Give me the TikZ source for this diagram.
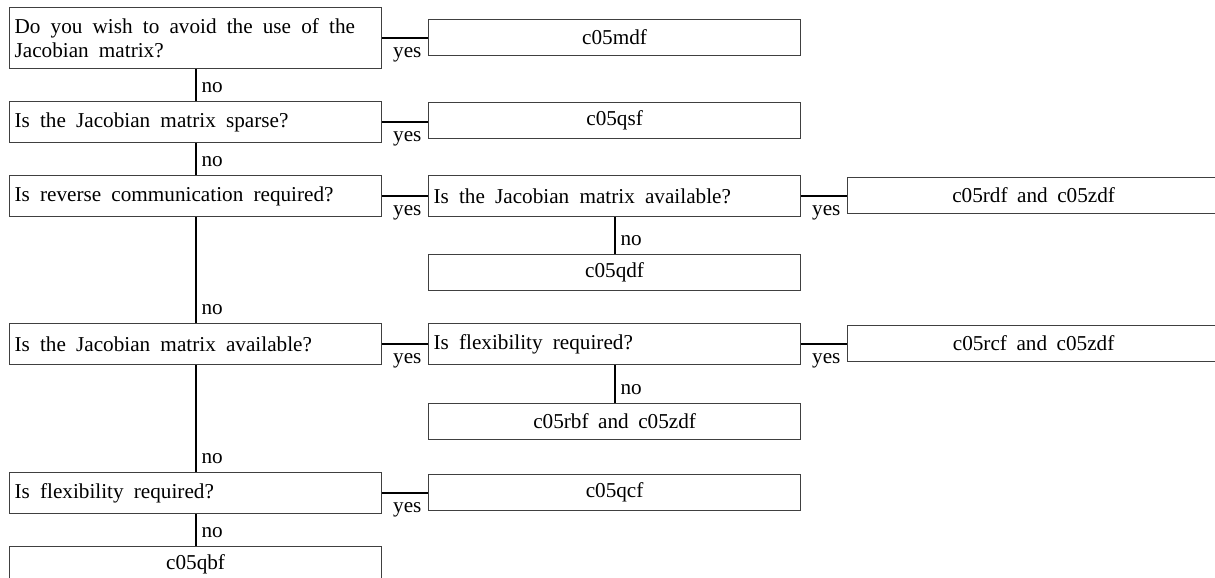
\documentclass[tikz,border=0pt]{standalone}
\usepackage{fontspec}
\setmainfont{Liberation Serif}
\usetikzlibrary{positioning}

\newcommand{\treefont}{\fontsize{10.6}{11.8}\selectfont\spaceskip=0.45em\relax}

\begin{document}
\begin{tikzpicture}[x=0.5pt,y=-0.5pt,
    box/.style={draw=black!75,line width=0.6pt,inner xsep=2.5pt,inner ysep=0pt,font=\treefont,anchor=north west},
    question/.style={box,text width=181pt,align=left,minimum height=20.5pt,
      execute at begin node={\spaceskip=0.48em\relax}},
    result/.style={box,minimum width=186pt,minimum height=18pt,align=center},
    link/.style={line width=1pt},
    yeslabel/.style={pos=0,anchor=north west,xshift=5pt,yshift=-4pt,inner sep=0pt,font=\treefont},
    nolabel/.style={pos=1,anchor=base west,xshift=2.5pt,yshift=4.5pt,inner sep=0pt,font=\treefont}]
\useasboundingbox (0,0) rectangle (1215,578);
\clip (0,0) rectangle (1215,578);

% Questions
\node[question,minimum height=30.5pt] (jac) at (9,7) {Do you wish to avoid the use of the\\Jacobian matrix?};
\node[question] (sparse) at (9,101) {Is the Jacobian matrix sparse?};
\node[question] (revcom) at (9,175) {Is reverse communication required?};
\node[question] (revjac) at (428,175) {Is the Jacobian matrix available?};
\node[question] (avail) at (9,323) {Is the Jacobian matrix available?};
\node[question] (availflex) at (428,323) {Is flexibility required?};
\node[question] (flex) at (9,472) {Is flexibility required?};

% Routines
\node[result] (mdf) at (428,19) {c05mdf};
\node[result] (qsf) at (428,102) {c05qsf};
\node[result] (rdf) at (847,177) {c05rdf and c05zdf};
\node[result] (qdf) at (428,254) {c05qdf};
\node[result] (rcf) at (847,325) {c05rcf and c05zdf};
\node[result] (rbf) at (428,403) {c05rbf and c05zdf};
\node[result] (qcf) at (428,474) {c05qcf};
\node[result] (qbf) at (9,546) {c05qbf};

% yes branches
\draw[link] (jac.east) -- node[yeslabel] {yes} (jac.east -| mdf.west);
\draw[link] (sparse.east) -- node[yeslabel] {yes} (sparse.east -| qsf.west);
\draw[link] (revcom.east) -- node[yeslabel] {yes} (revjac.west);
\draw[link] (revjac.east) -- node[yeslabel] {yes} (revjac.east -| rdf.west);
\draw[link] (avail.east) -- node[yeslabel] {yes} (availflex.west);
\draw[link] (availflex.east) -- node[yeslabel] {yes} (availflex.east -| rcf.west);
\draw[link] (flex.east) -- node[yeslabel] {yes} (flex.east -| qcf.west);

% no branches
\draw[link] (jac.south) -- node[nolabel] {no} (sparse.north);
\draw[link] (sparse.south) -- node[nolabel] {no} (revcom.north);
\draw[link] (revcom.south) -- node[nolabel] {no} (avail.north);
\draw[link] (revjac.south) -- node[nolabel] {no} (qdf.north);
\draw[link] (avail.south) -- node[nolabel] {no} (flex.north);
\draw[link] (availflex.south) -- node[nolabel] {no} (rbf.north);
\draw[link] (flex.south) -- node[nolabel] {no} (qbf.north);
\end{tikzpicture}
\end{document}
